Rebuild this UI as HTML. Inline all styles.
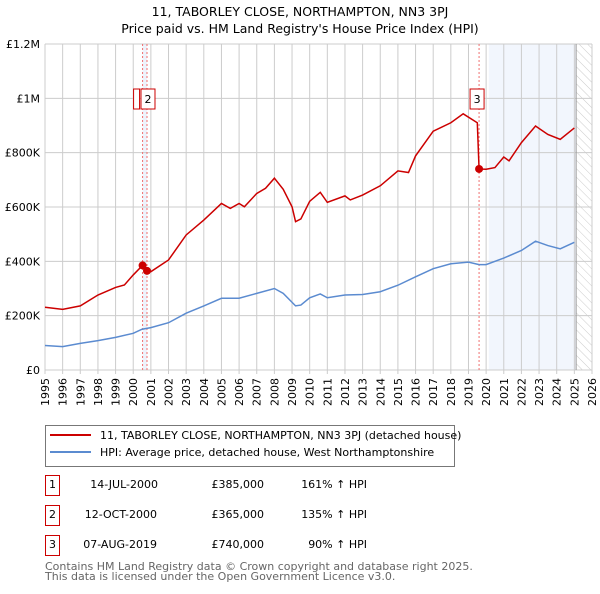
<!DOCTYPE html>
<html><head><meta charset="utf-8"><style>
body{margin:0;background:#fff;font-family:"DejaVu Sans","Liberation Sans",sans-serif;}
svg text{font-family:"DejaVu Sans","Liberation Sans",sans-serif;}
</style></head><body>
<svg id="chart" width="600" height="590" xmlns="http://www.w3.org/2000/svg">
<defs><pattern id="hatch" width="6" height="6" patternUnits="userSpaceOnUse" patternTransform="rotate(-45)"><line x1="0" y1="0" x2="0" y2="6" stroke="#ccc" stroke-width="1"/></pattern></defs>
<text x="300" y="16" text-anchor="middle" font-size="12.5">11, TABORLEY CLOSE, NORTHAMPTON, NN3 3PJ</text>
<text x="300" y="33" text-anchor="middle" font-size="12.5">Price paid vs. HM Land Registry's House Price Index (HPI)</text>
<g id="plot"></g>
<g>
<rect x="45.5" y="425.5" width="409" height="41" fill="#fff" stroke="#777"/>
<line x1="50" y1="435" x2="91" y2="435" stroke="#cc0000" stroke-width="2"/>
<text x="100" y="439" font-size="11">11, TABORLEY CLOSE, NORTHAMPTON, NN3 3PJ (detached house)</text>
<line x1="50" y1="452" x2="91" y2="452" stroke="#5b8bd0" stroke-width="2"/>
<text x="100" y="456" font-size="11">HPI: Average price, detached house, West Northamptonshire</text>
</g>
<g font-size="11">
<rect x="45.5" y="475.5" width="14" height="20" fill="#fff" stroke="#cc0000"/><text x="52.5" y="488" text-anchor="middle">1</text>
<text x="158" y="488" text-anchor="end">14-JUL-2000</text><text x="264" y="488" text-anchor="end">£385,000</text><text x="367" y="488" text-anchor="end">161% ↑ HPI</text>
<rect x="45.5" y="505.5" width="14" height="20" fill="#fff" stroke="#cc0000"/><text x="52.5" y="518" text-anchor="middle">2</text>
<text x="157" y="518" text-anchor="end">12-OCT-2000</text><text x="264" y="518" text-anchor="end">£365,000</text><text x="367" y="518" text-anchor="end">135% ↑ HPI</text>
<rect x="45.5" y="535.5" width="14" height="20" fill="#fff" stroke="#cc0000"/><text x="52.5" y="548" text-anchor="middle">3</text>
<text x="157" y="548" text-anchor="end">07-AUG-2019</text><text x="264" y="548" text-anchor="end">£740,000</text><text x="367" y="548" text-anchor="end">90% ↑ HPI</text>
</g>
<text x="45" y="570" font-size="11" fill="#666">Contains HM Land Registry data © Crown copyright and database right 2025.</text>
<text x="45" y="580" font-size="11" fill="#666">This data is licensed under the Open Government Licence v3.0.</text>
</svg>
<script>
const hpiYears=[1995,1996,1997,1998,1999,2000,2000.5,2001,2002,2003,2004,2005,2006,2007,2008,2008.5,2009.2,2009.5,2010,2010.6,2011,2012,2013,2014,2015,2016,2017,2018,2019,2019.6,2020,2021,2022,2022.8,2023.5,2024.2,2025];
const hpiValues=[90,86,98,108,120,135,150,156,174,209,236,264,264,282,300,282,236,239,266,280,266,276,278,288,312,343,373,391,397,388,388,412,440,474,458,446,470];
const priceYears=[1995,1996,1997,1998,1999,1999.5,2000,2000.53,2000.78,2001,2002,2003,2004,2005,2005.5,2006,2006.3,2007,2007.5,2008,2008.5,2009,2009.2,2009.5,2010,2010.6,2011,2012,2012.3,2013,2014,2015,2015.6,2016,2017,2018,2018.7,2019.5,2019.6,2020,2020.5,2021,2021.3,2022,2022.8,2023.5,2024.2,2025];
const priceValues=[231,223,236,276,304,313,350,385,365,362,405,497,552,613,595,613,601,650,669,706,665,601,546,556,621,654,617,641,626,644,678,733,727,788,879,910,943,910,740,739,745,784,770,837,898,867,849,891];
const saleYears=[2000.53,2000.78,2019.6];
const saleValues=[385,365,740];
const saleLabels=["1","2","3"];
const yTicks=[0,200,400,600,800,1000,1200];
const yTickLabels=["£0","£200K","£400K","£600K","£800K","£1M","£1.2M"];
const xTicks=[1995,1996,1997,1998,1999,2000,2001,2002,2003,2004,2005,2006,2007,2008,2009,2010,2011,2012,2013,2014,2015,2016,2017,2018,2019,2020,2021,2022,2023,2024,2025,2026];

const X0=45,X1=592,Y0=370,Y1=44;
const xs=y=>X0+(y-1995)/(2026-1995)*(X1-X0);
const ys=v=>Y0-v/1200*(Y0-Y1);
const NS="http://www.w3.org/2000/svg";
const g=document.getElementById('plot');
function mk(t,a){const e=document.createElementNS(NS,t);for(const k in a)e.setAttribute(k,a[k]);g.appendChild(e);return e;}
// shading
let e;
e=mk('rect',{x:xs(saleYears[0]),y:Y1,width:xs(saleYears[1])-xs(saleYears[0]),height:Y0-Y1,fill:'#eef3fc'});


e=mk('rect',{x:xs(2020.15),y:Y1,width:xs(2025.1)-xs(2020.15),height:Y0-Y1,fill:'#f2f6fd'});


e=mk('rect',{x:xs(2025.1),y:Y1,width:X1-xs(2025.1),height:Y0-Y1,fill:'url(#hatch)'});


// grid
xTicks.forEach((t,i)=>{
 e=mk('line',{x1:xs(t),x2:xs(t),y1:Y1,y2:Y0+4,stroke:'#ccc','stroke-width':1});
 
 
 e=mk('text',{x:0,y:0,'font-size':11,transform:`translate(${xs(t)+4},${Y0+8}) rotate(-90)`,'text-anchor':'end'});
 e.textContent=t;
 
 
});
yTicks.forEach((t,i)=>{
 e=mk('line',{x1:X0,x2:X1,y1:ys(t),y2:ys(t),stroke:'#ccc','stroke-width':1});
 
 
 e=mk('text',{x:X0-5,y:ys(t)+4,'font-size':11,'text-anchor':'end'});
 e.textContent=yTickLabels[i];
 
 
});
e=mk('line',{x1:xs(2025.1),x2:xs(2025.1),y1:Y1,y2:Y0,stroke:'#999','stroke-width':1});


saleYears.forEach(s=>{
 e=mk('line',{x1:xs(s),x2:xs(s),y1:Y1,y2:Y0,stroke:'#f07070','stroke-width':1,'stroke-dasharray':'2,2'});
 
 
});
// series
e=mk('polyline',{points:hpiYears.map((y,i)=>xs(y)+','+ys(hpiValues[i])).join(' '),fill:'none',stroke:'#5b8bd0','stroke-width':1.5});


e=mk('polyline',{points:priceYears.map((y,i)=>xs(y)+','+ys(priceValues[i])).join(' '),fill:'none',stroke:'#cc0000','stroke-width':1.5});


saleYears.forEach((s,i)=>{
 e=mk('circle',{cx:xs(s),cy:ys(saleValues[i]),r:4,fill:'#cc0000'});
 
 
});
const boxX=[xs(saleYears[0])-9,xs(saleYears[1])-6,xs(saleYears[2])-9];
saleLabels.forEach((l,i)=>{
 e=mk('rect',{x:boxX[i],y:89,width:i==0?6:14,height:20,fill:'#fff',stroke:'#cc0000'});
 
 
 if(i>0){e=mk('text',{x:boxX[i]+7,y:103,'font-size':11,'text-anchor':'middle'});
 e.textContent=l;
 
 }
});
</script>
</body></html>
